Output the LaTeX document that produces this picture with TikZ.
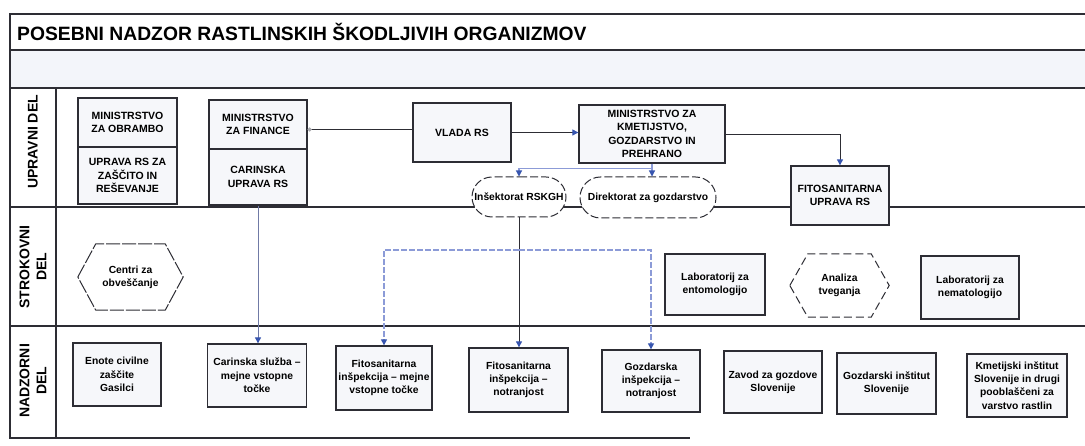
\documentclass[tikz,border=0pt]{standalone}
\usepackage{fontspec}
\setmainfont{Liberation Sans}
\usetikzlibrary{arrows.meta,shapes.misc}
\definecolor{ink}{RGB}{45,45,52}
\definecolor{boxfill}{RGB}{246,247,250}
\definecolor{bandfill}{RGB}{243,245,250}
\definecolor{arrowblue}{RGB}{55,85,175}
\definecolor{lightblue}{RGB}{140,155,215}
\definecolor{tipgray}{RGB}{170,170,175}
\tikzset{
  laneline/.style={draw=ink, line width=1.4pt},
  capbox/.style={draw=ink, line width=1.3pt, fill=boxfill, align=center, inner sep=2pt,
    font=\bfseries\fontsize{10.5}{13.5}\selectfont},
  smallbox/.style={draw=ink, line width=1.3pt, fill=boxfill, align=center, inner sep=2pt,
    font=\bfseries\fontsize{10.3}{13.3}\selectfont},
  ovalbox/.style={rounded rectangle, draw=ink, line width=1pt, dash pattern=on 8pt off 3pt,
    fill=white, align=center, inner sep=2pt, font=\bfseries\fontsize{10.3}{13}\selectfont},
  hexbox/.style={align=center, inner sep=2pt, font=\bfseries\fontsize{10.3}{13.3}\selectfont},
  hexline/.style={draw=ink, line width=1pt},
  lanelab/.style={align=center, inner sep=0pt, font=\bfseries\fontsize{14}{17}\selectfont},
  bluetip/.style={-{Triangle[length=6pt,width=6pt,color=arrowblue]}},
  conn/.style={draw=ink, line width=0.9pt},
  lconn/.style={draw=lightblue, line width=1.1pt},
}
\begin{document}
\begin{tikzpicture}[x=1pt,y=-1pt]
\useasboundingbox (0,0) rectangle (1085,446);
\fill[white] (0,0) rectangle (1085,446);
% header band
\fill[bandfill] (10,50) rectangle (1085,88);
% frame and lane lines
\draw[laneline] (1085,14) -- (10,14) -- (10,438) -- (690,438);
\draw[laneline] (10,50) -- (1085,50);
\draw[laneline] (10,88) -- (1085,88);
\draw[laneline] (10,207) -- (1085,207);
\draw[laneline] (10,326) -- (1085,326);
\draw[laneline] (56,88) -- (56,438);
% title
\node[anchor=west, inner sep=0pt, font=\bfseries\fontsize{19.3}{22}\selectfont] (title) at (17,32)
  {POSEBNI NADZOR RASTLINSKIH ŠKODLJIVIH ORGANIZMOV};
% lane labels
\node[lanelab, rotate=90] (lu) at (33,142) {UPRAVNI DEL};
\node[lanelab, rotate=90] (ls) at (33,267) {STROKOVNI\\DEL};
\node[lanelab, rotate=90] (ln) at (33,381) {NADZORNI\\DEL};

% UPRAVNI DEL
\node[capbox, minimum width=99pt, minimum height=49pt] (obr) at (127.5,122.5) {MINISTRSTVO\\ZA OBRAMBO};
\node[capbox, minimum width=99pt, minimum height=57pt] (zas) at (127.5,175.5) {UPRAVA RS ZA\\ZAŠČITO IN\\REŠEVANJE};
\node[capbox, minimum width=98pt, minimum height=49pt] (fin) at (258,124.5) {MINISTRSTVO\\ZA FINANCE};
\node[capbox, minimum width=98pt, minimum height=56pt] (car) at (258,177) {CARINSKA\\UPRAVA RS};
\node[capbox, minimum width=98pt, minimum height=59pt] (vlada) at (462,132.5) {VLADA RS};
\node[capbox, minimum width=146pt, minimum height=58pt] (mkgp) at (652,134) {MINISTRSTVO ZA\\KMETIJSTVO,\\GOZDARSTVO IN\\PREHRANO};
\node[capbox, minimum width=98pt, minimum height=59pt] (fito) at (840,195.5) {FITOSANITARNA\\UPRAVA RS};
\node[ovalbox, minimum width=98pt, minimum height=40pt] (insp) at (519,197) {Inšektorat RSKGH};
\node[ovalbox, minimum width=140pt, minimum height=41pt] (dir) at (648,197.5) {Direktorat za gozdarstvo};

% STROKOVNI DEL
\node[hexbox, minimum width=105pt, minimum height=66pt] (centri) at (130.5,277) {Centri za\\obveščanje};
\draw[hexline, dash pattern=on 14pt off 2pt] (centri.west) -- ([xshift=18pt]centri.north west) -- ([xshift=-18pt]centri.north east)
  -- (centri.east) -- ([xshift=-18pt]centri.south east) -- ([xshift=18pt]centri.south west) -- cycle;
\node[smallbox, minimum width=100pt, minimum height=61pt] (labent) at (715,284.5) {Laboratorij za\\entomologijo};
\node[hexbox, minimum width=99pt, minimum height=63pt] (analiza) at (839.5,285.5) {Analiza\\tveganja};
\draw[hexline, dash pattern=on 8pt off 4pt] (analiza.west) -- ([xshift=18pt]analiza.north west) -- ([xshift=-18pt]analiza.north east)
  -- (analiza.east) -- ([xshift=-18pt]analiza.south east) -- ([xshift=18pt]analiza.south west) -- cycle;
\node[smallbox, minimum width=98pt, minimum height=63pt] (labnem) at (970,287.5) {Laboratorij za\\nematologijo};

% NADZORNI DEL
\node[smallbox, minimum width=88pt, minimum height=63pt] (enote) at (117,374.5) {Enote civilne\\zaščite\\Gasilci};
\node[smallbox, minimum width=99pt, minimum height=63pt] (carsl) at (257,375.5) {Carinska služba –\\mejne vstopne\\točke};
\node[smallbox, minimum width=96pt, minimum height=64pt] (fimvt) at (384,378) {Fitosanitarna\\inšpekcija – mejne\\vstopne točke};
\node[smallbox, minimum width=99pt, minimum height=64pt] (finot) at (518.5,380) {Fitosanitarna\\inšpekcija –\\notranjost};
\node[smallbox, minimum width=98pt, minimum height=62pt] (gonot) at (651,381) {Gozdarska\\inšpekcija –\\notranjost};
\node[smallbox, minimum width=98pt, minimum height=62pt] (zgs) at (773,382) {Zavod za gozdove\\Slovenije};
\node[smallbox, minimum width=99pt, minimum height=61pt] (gis) at (886.5,383.5) {Gozdarski inštitut\\Slovenije};
\node[smallbox, minimum width=100pt, minimum height=63pt] (kis) at (1017,385.5) {Kmetijski inštitut\\Slovenije in drugi\\pooblaščeni za\\varstvo rastlin};

% connectors
\coordinate (v1) at ([yshift=3pt]vlada.west);
\draw[conn, -{Circle[length=4pt,color=tipgray]}] (v1) -- (v1 -| fin.east);
\draw[conn, bluetip] (vlada.east) -- (vlada.east -| mkgp.west);
\draw[conn, bluetip] (mkgp.east) -| (fito.north);
\coordinate (m1) at ([yshift=-5pt]mkgp.south);
\draw[lconn, bluetip] (mkgp.south) -- (mkgp.south |- dir.north);
\draw[lconn, bluetip] (m1) -| (insp.north);
\draw[conn, bluetip] (insp.south) -- (insp.south |- finot.north);
\coordinate (jy) at (0,250);
\coordinate (j) at (insp.south |- jy);
\draw[lconn, dash pattern=on 6pt off 2pt, bluetip] (j) -| (fimvt.north);
\draw[lconn, dash pattern=on 6pt off 2pt, bluetip] (j) -| (gonot.north);
\draw[draw=lightblue!70!ink, line width=0.9pt, bluetip] (car.south) -- (car.south |- carsl.north);
\end{tikzpicture}
\end{document}
